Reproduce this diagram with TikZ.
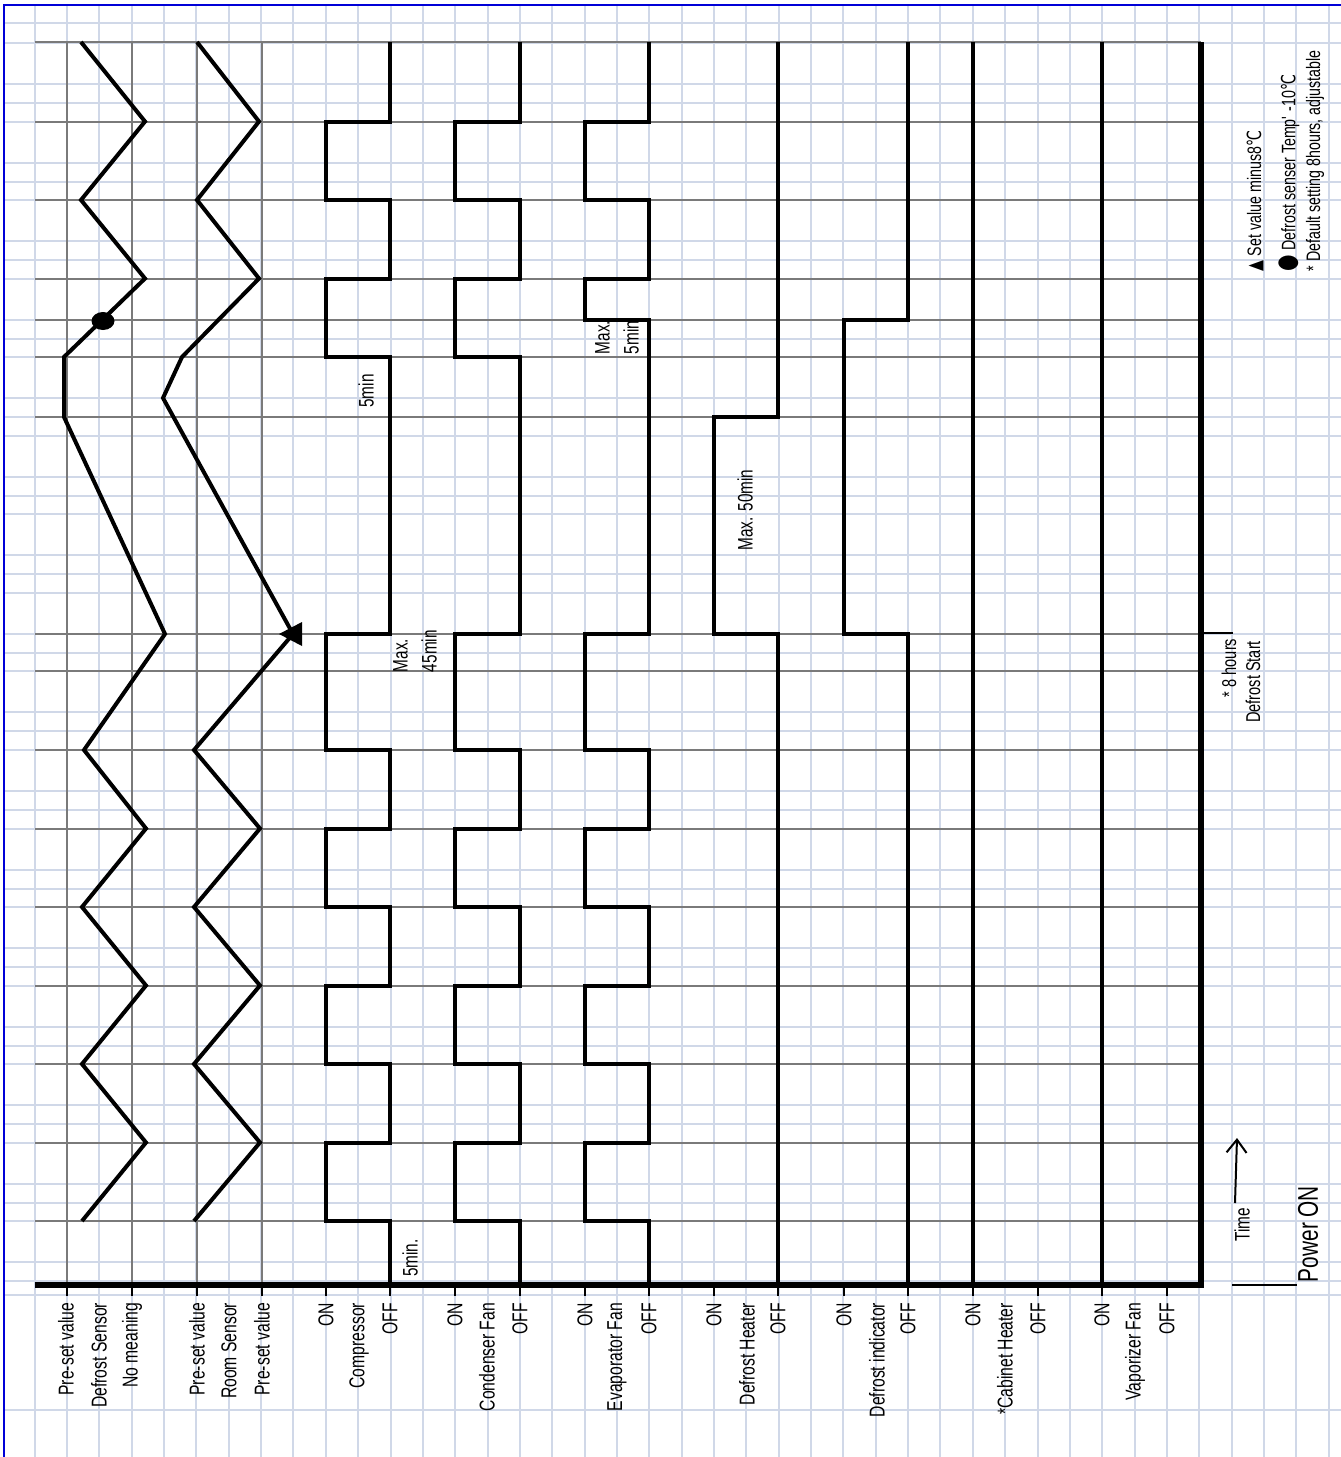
\documentclass[tikz,border=0pt]{standalone}
\usepackage{fontspec}
\setmainfont{Liberation Sans}[FakeStretch=0.73]
\newfontfamily\symfont{DejaVu Sans}[FakeStretch=0.73]
\usepackage{tikz}
\usetikzlibrary{arrows.meta}
\definecolor{gridlt}{RGB}{208,216,232}
\definecolor{griddk}{RGB}{122,122,122}
\definecolor{frameblue}{RGB}{0,0,215}

\begin{document}
\begin{tikzpicture}[x=1pt,y=-1pt,line width=2pt,
  lightline/.style={draw=gridlt,line width=2pt},
  darkline/.style={draw=griddk,line width=2pt},
  wave/.style={line width=4pt},
  lbl/.style={rotate=90,anchor=east,inner sep=0pt,font={\fontsize{21.5}{24}\selectfont}},
  note/.style={rotate=90,inner sep=0pt,font={\fontsize{21}{29}\selectfont}},
  legend/.style={rotate=90,anchor=west,inner sep=0pt,font={\fontsize{19.5}{22}\selectfont}}]
\useasboundingbox (0,0) rectangle (1341,1457);
\foreach \k in {0,...,40} \draw[lightline] (34.65+32.35*\k,5) -- (34.65+32.35*\k,1457);
\foreach \n in {0,...,15} \draw[lightline] (4,43+78.55*\n) -- (1341,43+78.55*\n) (4,84+78.55*\n) -- (1341,84+78.55*\n) (4,103+78.55*\n) -- (1341,103+78.55*\n);
\draw[lightline] (4,23) -- (1341,23) (4,1295) -- (1341,1295) (4,1410) -- (1341,1410);
\draw[frameblue,line width=2.5pt] (4,1457) -- (4,5) -- (1341,5);
\foreach \y in {42,121.5,200,278.5,320,357,417,634,671,750,828.5,907,985.5,1064,1142.5,1221} \draw[darkline] (35,\y) -- (1201,\y);
\foreach \x in {67,132,197,262} \draw[darkline] (\x,42) -- (\x,1285);
\draw[wave] (82,1221)--(146,1142.5)--(82,1064)--(146,985.5)--(82,907)--(146,828.5)--(84,750)--(165,634)--(64,417)--(64,357)--(145,278.5)--(81,200)--(145,121.5)--(81,42);
\draw[wave] (194,1221)--(260,1142.5)--(194,1064)--(260,985.5)--(194,907)--(260,828.5)--(194,750)--(293,634)--(163,398)--(182,357)--(259,278.5)--(197,200)--(259,121.5)--(197,42);
\fill (103,321) ellipse [x radius=11.5pt,y radius=9pt];
\fill (279,634)--(302,622)--(302,646)--cycle;
\draw[wave] (390,42)--(390,121.5)--(326,121.5)--(326,200)--(390,200)--(390,278.5)--(326,278.5)--(326,357)--(390,357)--(390,634)--(326,634)--(326,750)--(390,750)--(390,828.5)--(326,828.5)--(326,907)--(390,907)--(390,985.5)--(326,985.5)--(326,1064)--(390,1064)--(390,1142.5)--(326,1142.5)--(326,1221)--(390,1221)--(390,1285);
\draw[wave] (520,42)--(520,121.5)--(455,121.5)--(455,200)--(520,200)--(520,278.5)--(455,278.5)--(455,357)--(520,357)--(520,634)--(455,634)--(455,750)--(520,750)--(520,828.5)--(455,828.5)--(455,907)--(520,907)--(520,985.5)--(455,985.5)--(455,1064)--(520,1064)--(520,1142.5)--(455,1142.5)--(455,1221)--(520,1221)--(520,1285);
\draw[wave] (649,42)--(649,121.5)--(585,121.5)--(585,200)--(649,200)--(649,278.5)--(585,278.5)--(585,320)--(649,320)--(649,634)--(585,634)--(585,750)--(649,750)--(649,828.5)--(585,828.5)--(585,907)--(649,907)--(649,985.5)--(585,985.5)--(585,1064)--(649,1064)--(649,1142.5)--(585,1142.5)--(585,1221)--(649,1221)--(649,1285);
\draw[wave] (778,42)--(778,417)--(714,417)--(714,634)--(778,634)--(778,1285);
\draw[wave] (908,42)--(908,320)--(844,320)--(844,634)--(908,634)--(908,1285);
\draw[wave] (973,42)--(973,1285);
\draw[wave] (1102,42)--(1102,1285);
\draw[line width=5.5pt] (35,1285)--(1201,1285)--(1201,42);
\foreach \x in {67,132,197,262,326,390,455,520,585,649,714,778,844,908,973,1038,1102,1167} \draw[line width=2.5pt] (\x,1285) -- (\x,1296);
\draw[line width=2.5pt] (1201,633) -- (1233,633);
\draw (1232,1285) -- (1297,1285);
\node[lbl] (defPreLo) at (66,1302) {Pre-set value};
\node[lbl] (defName) at (99,1302) {Defrost Sensor};
\node[lbl] (defNoMean) at (132,1302) {No meaning};
\node[lbl] (roomPreLo) at (197,1302) {Pre-set value};
\node[lbl] (roomName) at (229,1302) {Room Sensor};
\node[lbl] (roomPreHi) at (262,1302) {Pre-set value};
\node[lbl] (compOn) at (326,1302) {ON};
\node[lbl] (compName) at (359,1302) {Compressor};
\node[lbl] (compOff) at (390,1302) {OFF};
\node[lbl] (condOn) at (455,1302) {ON};
\node[lbl] (condName) at (487,1302) {Condenser Fan};
\node[lbl] (condOff) at (520,1302) {OFF};
\node[lbl] (evapOn) at (585,1302) {ON};
\node[lbl] (evapName) at (617,1302) {Evaporator Fan};
\node[lbl] (evapOff) at (649,1302) {OFF};
\node[lbl] (heatOn) at (714,1302) {ON};
\node[lbl] (heatName) at (747,1302) {Defrost Heater};
\node[lbl] (heatOff) at (778,1302) {OFF};
\node[lbl] (indOn) at (844,1302) {ON};
\node[lbl] (indName) at (877,1302) {Defrost indicator};
\node[lbl] (indOff) at (908,1302) {OFF};
\node[lbl] (cabOn) at (973,1302) {ON};
\node[lbl] (cabName) at (1005,1302) {*Cabinet Heater};
\node[lbl] (cabOff) at (1038,1302) {OFF};
\node[lbl] (vapOn) at (1102,1302) {ON};
\node[lbl] (vapName) at (1135,1302) {Vaporizer Fan};
\node[lbl] (vapOff) at (1167,1302) {OFF};
\node[note] (compRest) at (366,391) {5min};
\node[note] (compStart) at (410,1258) {5min.};
\node[note,align=left,anchor=west] (compMax) at (415,673) {Max.\\45min};
\node[note,align=left,anchor=west] (evapMax) at (617,355) {Max.\\5min};
\node[note] (heatMax) at (745,510) {Max. 50min};
\node[note,font={\fontsize{20}{22}\selectfont}] (eightHours) at (1229,668) {* 8 hours};
\node[note,font={\fontsize{20}{22}\selectfont}] (defStart) at (1253,682) {Defrost Start};
\node[note] (timeLbl) at (1242,1225) {Time};
\coordinate (timeTail) at (1235,1203);
\coordinate (timeTip) at (1237,1138);
\draw[-{Straight Barb[length=13pt,width=20pt]}] (timeTail) -- (timeTip);
\node[note,anchor=west,font={\fontsize{28.5}{30}\selectfont}] (powerOn) at (1308,1283) {Power ON};
\node[legend] (legTri) at (1255,272) {{\symfont ▲} Set value minus8{\symfont ℃}};
\node[legend] (legDot) at (1289,272) {{\symfont\fontsize{26}{22}\selectfont ●} Defrost senser Temp\textquotesingle\ -10{\symfont ℃}};
\node[legend] (legStar) at (1315,272) {* Default setting 8hours, adjustable};
\end{tikzpicture}
\end{document}
